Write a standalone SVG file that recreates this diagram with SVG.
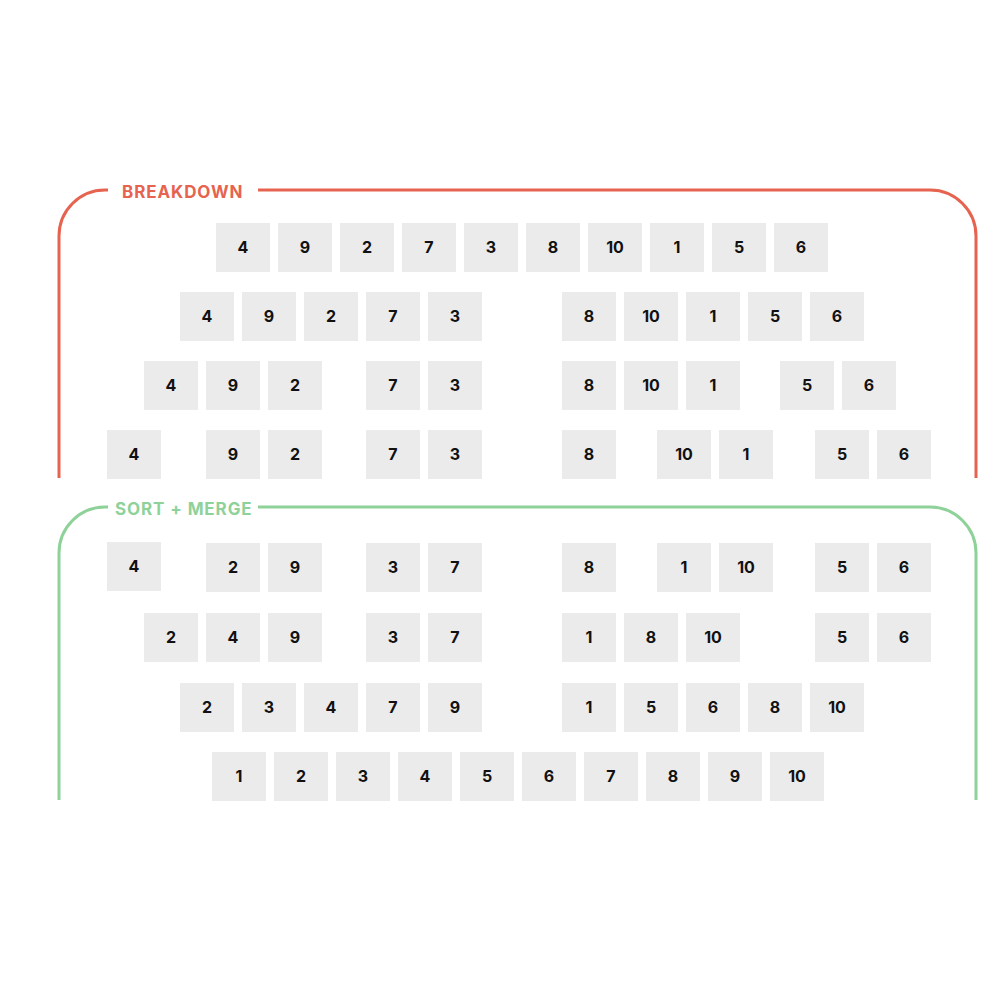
<svg xmlns="http://www.w3.org/2000/svg" width="1000" height="1000" viewBox="0 0 1000 1000">
<style>
.b{fill:#ebebeb}
.t{font-family:Inter,"Liberation Sans",sans-serif;font-weight:700;font-size:16px;fill:#111;text-anchor:middle}
.fr{fill:none;stroke-width:3}
.red{stroke:#e6634f}
.grn{stroke:#8ed29a}
.lbl{font-family:Inter,"Liberation Sans",sans-serif;font-weight:700;font-size:17px;letter-spacing:0.9px}
</style>
<rect width="1000" height="1000" fill="#fff"/>
<g id="frames">
<path class="fr red" d="M59,478 V236 A46,46 0 0 1 105,190 H108"/>
<path class="fr red" d="M258,190 H930 A46,46 0 0 1 976,236 V478"/>
<text class="lbl" x="122" y="198" fill="#e6634f">BREAKDOWN</text>
<path class="fr grn" d="M59,800 V553 A46,46 0 0 1 105,507 H108"/>
<path class="fr grn" d="M258,507 H930 A46,46 0 0 1 976,553 V800"/>
<text class="lbl" x="115" y="515" fill="#8ed29a">SORT + MERGE</text>
</g>
<g id="row1">
<rect class="b" x="216" y="223" width="54" height="49"/><text class="t" x="243" y="253">4</text>
<rect class="b" x="278" y="223" width="54" height="49"/><text class="t" x="305" y="253">9</text>
<rect class="b" x="340" y="223" width="54" height="49"/><text class="t" x="367" y="253">2</text>
<rect class="b" x="402" y="223" width="54" height="49"/><text class="t" x="429" y="253">7</text>
<rect class="b" x="464" y="223" width="54" height="49"/><text class="t" x="491" y="253">3</text>
<rect class="b" x="526" y="223" width="54" height="49"/><text class="t" x="553" y="253">8</text>
<rect class="b" x="588" y="223" width="54" height="49"/><text class="t" x="615" y="253">10</text>
<rect class="b" x="650" y="223" width="54" height="49"/><text class="t" x="677" y="253">1</text>
<rect class="b" x="712" y="223" width="54" height="49"/><text class="t" x="739" y="253">5</text>
<rect class="b" x="774" y="223" width="54" height="49"/><text class="t" x="801" y="253">6</text>
</g>
<g id="row2">
<rect class="b" x="180" y="292" width="54" height="49"/><text class="t" x="207" y="322">4</text>
<rect class="b" x="242" y="292" width="54" height="49"/><text class="t" x="269" y="322">9</text>
<rect class="b" x="304" y="292" width="54" height="49"/><text class="t" x="331" y="322">2</text>
<rect class="b" x="366" y="292" width="54" height="49"/><text class="t" x="393" y="322">7</text>
<rect class="b" x="428" y="292" width="54" height="49"/><text class="t" x="455" y="322">3</text>
<rect class="b" x="562" y="292" width="54" height="49"/><text class="t" x="589" y="322">8</text>
<rect class="b" x="624" y="292" width="54" height="49"/><text class="t" x="651" y="322">10</text>
<rect class="b" x="686" y="292" width="54" height="49"/><text class="t" x="713" y="322">1</text>
<rect class="b" x="748" y="292" width="54" height="49"/><text class="t" x="775" y="322">5</text>
<rect class="b" x="810" y="292" width="54" height="49"/><text class="t" x="837" y="322">6</text>
</g>
<g id="row3">
<rect class="b" x="144" y="361" width="54" height="49"/><text class="t" x="171" y="391">4</text>
<rect class="b" x="206" y="361" width="54" height="49"/><text class="t" x="233" y="391">9</text>
<rect class="b" x="268" y="361" width="54" height="49"/><text class="t" x="295" y="391">2</text>
<rect class="b" x="366" y="361" width="54" height="49"/><text class="t" x="393" y="391">7</text>
<rect class="b" x="428" y="361" width="54" height="49"/><text class="t" x="455" y="391">3</text>
<rect class="b" x="562" y="361" width="54" height="49"/><text class="t" x="589" y="391">8</text>
<rect class="b" x="624" y="361" width="54" height="49"/><text class="t" x="651" y="391">10</text>
<rect class="b" x="686" y="361" width="54" height="49"/><text class="t" x="713" y="391">1</text>
<rect class="b" x="780" y="361" width="54" height="49"/><text class="t" x="807" y="391">5</text>
<rect class="b" x="842" y="361" width="54" height="49"/><text class="t" x="869" y="391">6</text>
</g>
<g id="row4">
<rect class="b" x="107" y="430" width="54" height="49"/><text class="t" x="134" y="460">4</text>
<rect class="b" x="206" y="430" width="54" height="49"/><text class="t" x="233" y="460">9</text>
<rect class="b" x="268" y="430" width="54" height="49"/><text class="t" x="295" y="460">2</text>
<rect class="b" x="366" y="430" width="54" height="49"/><text class="t" x="393" y="460">7</text>
<rect class="b" x="428" y="430" width="54" height="49"/><text class="t" x="455" y="460">3</text>
<rect class="b" x="562" y="430" width="54" height="49"/><text class="t" x="589" y="460">8</text>
<rect class="b" x="657" y="430" width="54" height="49"/><text class="t" x="684" y="460">10</text>
<rect class="b" x="719" y="430" width="54" height="49"/><text class="t" x="746" y="460">1</text>
<rect class="b" x="815" y="430" width="54" height="49"/><text class="t" x="842" y="460">5</text>
<rect class="b" x="877" y="430" width="54" height="49"/><text class="t" x="904" y="460">6</text>
</g>
<g id="row5">
<rect class="b" x="107" y="542" width="54" height="49"/><text class="t" x="134" y="572">4</text>
<rect class="b" x="206" y="543" width="54" height="49"/><text class="t" x="233" y="573">2</text>
<rect class="b" x="268" y="543" width="54" height="49"/><text class="t" x="295" y="573">9</text>
<rect class="b" x="366" y="543" width="54" height="49"/><text class="t" x="393" y="573">3</text>
<rect class="b" x="428" y="543" width="54" height="49"/><text class="t" x="455" y="573">7</text>
<rect class="b" x="562" y="543" width="54" height="49"/><text class="t" x="589" y="573">8</text>
<rect class="b" x="657" y="543" width="54" height="49"/><text class="t" x="684" y="573">1</text>
<rect class="b" x="719" y="543" width="54" height="49"/><text class="t" x="746" y="573">10</text>
<rect class="b" x="815" y="543" width="54" height="49"/><text class="t" x="842" y="573">5</text>
<rect class="b" x="877" y="543" width="54" height="49"/><text class="t" x="904" y="573">6</text>
</g>
<g id="row6">
<rect class="b" x="144" y="613" width="54" height="49"/><text class="t" x="171" y="643">2</text>
<rect class="b" x="206" y="613" width="54" height="49"/><text class="t" x="233" y="643">4</text>
<rect class="b" x="268" y="613" width="54" height="49"/><text class="t" x="295" y="643">9</text>
<rect class="b" x="366" y="613" width="54" height="49"/><text class="t" x="393" y="643">3</text>
<rect class="b" x="428" y="613" width="54" height="49"/><text class="t" x="455" y="643">7</text>
<rect class="b" x="562" y="613" width="54" height="49"/><text class="t" x="589" y="643">1</text>
<rect class="b" x="624" y="613" width="54" height="49"/><text class="t" x="651" y="643">8</text>
<rect class="b" x="686" y="613" width="54" height="49"/><text class="t" x="713" y="643">10</text>
<rect class="b" x="815" y="613" width="54" height="49"/><text class="t" x="842" y="643">5</text>
<rect class="b" x="877" y="613" width="54" height="49"/><text class="t" x="904" y="643">6</text>
</g>
<g id="row7">
<rect class="b" x="180" y="683" width="54" height="49"/><text class="t" x="207" y="713">2</text>
<rect class="b" x="242" y="683" width="54" height="49"/><text class="t" x="269" y="713">3</text>
<rect class="b" x="304" y="683" width="54" height="49"/><text class="t" x="331" y="713">4</text>
<rect class="b" x="366" y="683" width="54" height="49"/><text class="t" x="393" y="713">7</text>
<rect class="b" x="428" y="683" width="54" height="49"/><text class="t" x="455" y="713">9</text>
<rect class="b" x="562" y="683" width="54" height="49"/><text class="t" x="589" y="713">1</text>
<rect class="b" x="624" y="683" width="54" height="49"/><text class="t" x="651" y="713">5</text>
<rect class="b" x="686" y="683" width="54" height="49"/><text class="t" x="713" y="713">6</text>
<rect class="b" x="748" y="683" width="54" height="49"/><text class="t" x="775" y="713">8</text>
<rect class="b" x="810" y="683" width="54" height="49"/><text class="t" x="837" y="713">10</text>
</g>
<g id="row8">
<rect class="b" x="212" y="752" width="54" height="49"/><text class="t" x="239" y="782">1</text>
<rect class="b" x="274" y="752" width="54" height="49"/><text class="t" x="301" y="782">2</text>
<rect class="b" x="336" y="752" width="54" height="49"/><text class="t" x="363" y="782">3</text>
<rect class="b" x="398" y="752" width="54" height="49"/><text class="t" x="425" y="782">4</text>
<rect class="b" x="460" y="752" width="54" height="49"/><text class="t" x="487" y="782">5</text>
<rect class="b" x="522" y="752" width="54" height="49"/><text class="t" x="549" y="782">6</text>
<rect class="b" x="584" y="752" width="54" height="49"/><text class="t" x="611" y="782">7</text>
<rect class="b" x="646" y="752" width="54" height="49"/><text class="t" x="673" y="782">8</text>
<rect class="b" x="708" y="752" width="54" height="49"/><text class="t" x="735" y="782">9</text>
<rect class="b" x="770" y="752" width="54" height="49"/><text class="t" x="797" y="782">10</text>
</g>
</svg>
